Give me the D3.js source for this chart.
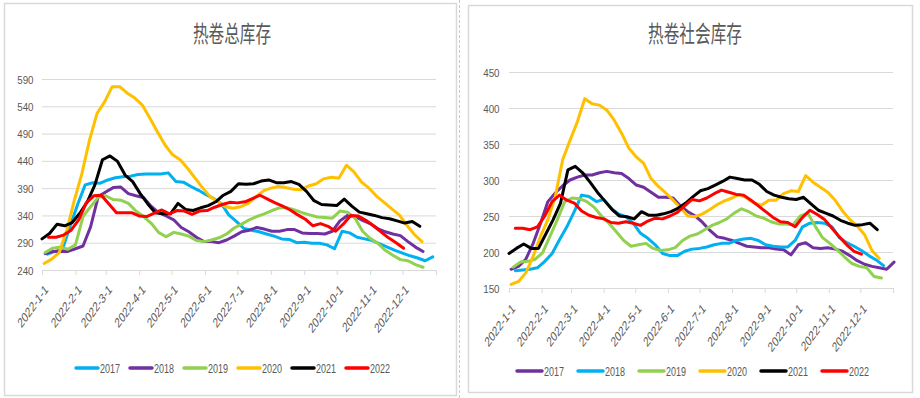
<!DOCTYPE html>
<html>
<head>
<meta charset="utf-8">
<script src="https://cdn.jsdelivr.net/npm/d3@7"></script>
<style>
body { margin: 0; background: #fff; }
svg text { fill: #595959; font-family: "Liberation Sans", Arial, sans-serif; }
</style>
</head>
<body>
<svg id="chart" width="920" height="398"></svg>
<script>
// legend / series names
const years = ["2017", "2018", "2019", "2020", "2021", "2022"];
const tickLabels = ["2022-1-1", "2022-2-1", "2022-3-1", "2022-4-1", "2022-5-1", "2022-6-1",
    "2022-7-1", "2022-8-1", "2022-9-1", "2022-10-1", "2022-11-1", "2022-12-1"];

// 热卷总库存 : weekly values, first point = day offset from 2022-1-1
const totalStart = [5, 3, 3, 2, 0, 6];
const total2017 = [269,274,278,320,360,396,400,399,405,409, 411,412,415,416,416,416,418,402,401,393,
    386,378,371,362,341,329,316,313,310,306, 302,297,296,290,291,289,289,286,279,311,
    308,300,297,294,288,282,276,271,266,262, 257,264];
const total2018 = [270,274,274,274,279,284,319,374,383,391, 392,380,376,373,357,345,339,332,318,310,
    300,292,292,290,295,302,310,313,318,315, 311,311,314,314,308,307,307,306,311,330,
    340,338,331,325,316,310,306,303,292,282, 274];
const total2019 = [272,280,282,278,286,338,356,373,376,369, 368,362,348,338,326,309,301,309,306,302,
    294,292,295,299,306,317,324,332,338,343, 349,354,354,350,345,341,337,336,335,348,
    346,335,311,298,289,276,267,259,257,250, 245];
const total2020 = [252,260,272,313,368,417,478,527,548,576, 576,564,555,542,518,493,469,451,442,426,
    408,390,374,365,356,353,356,362,374,385, 390,393,391,388,387,394,398,407,410,408,
    432,420,401,390,375,364,352,341,322,305, 292];
const total2021 = [297,307,324,321,327,344,365,396,442,449, 439,414,402,380,361,345,343,343,362,351,
    349,354,358,365,377,384,398,397,398,403, 405,400,400,402,397,384,367,360,359,358,
    370,357,346,343,340,336,334,330,326,329, 320];
const total2022 = [300,300,304,313,332,363,376,377,361,345, 345,345,339,338,344,350,343,349,348,342,
    348,349,355,360,364,363,365,371,377,370, 363,357,350,341,333,321,325,320,311,324,
    340,339,331,321,310,299,290,280];

// 热卷社会库存
const socialStart = [2, 6, 4, 2, 0, 6];
const social2017 = [176,180,190,212,240,270,282,292,300,304, 307,307,310,312,310,309,302,293,290,283,
    276,276,275,264,256,250,241,230,221,219, 216,212,208,207,206,206,204,203,196,210,
    213,206,205,206,204,201,195,188,183,180, 178,176,186];
const social2018 = [174,175,176,178,187,198,217,235,256,279, 277,270,273,261,253,249,240,226,219,210,
    198,195,195,201,204,205,207,210,212,212, 216,218,219,216,210,208,207,207,216,235,
    240,241,240,235,220,213,208,202,195,189, 181];
const social2019 = [179,186,187,190,199,222,245,270,275,274, 270,262,250,240,228,216,208,210,212,205,
    202,203,206,216,222,225,231,237,241,246, 254,260,256,250,247,242,239,239,238,250,
    254,236,220,212,203,193,184,180,178,166, 164];
const social2020 = [155,159,171,194,222,245,277,328,355,381, 413,406,404,397,383,365,344,332,323,302,
    291,282,272,261,250,249,253,259,266,271, 275,280,275,268,265,272,272,281,285,284,
    306,297,290,283,272,257,245,236,224,202, 191];
const social2021 = [198,205,211,205,205,225,245,268,314,319, 310,297,283,271,259,250,249,246,256,251,
    251,253,256,261,268,277,285,288,293,298, 304,302,300,300,294,284,279,276,274,273,
    276,267,258,254,250,244,240,237,238,240, 231];
const social2022 = [233,233,231,235,250,270,279,272,268,257, 251,248,246,241,240,242,240,237,243,247,
    246,250,255,264,273,271,275,281,286,283, 280,279,272,264,256,248,242,241,235,248,
    258,252,245,233,221,210,201,197];

const colorsTotal = ["#00B0F0", "#7030A0", "#92D050", "#FFC000", "#000000", "#FF0000"];
const colorsSocial = ["#7030A0", "#00B0F0", "#92D050", "#FFC000", "#000000", "#FF0000"];

const day0 = new Date(2022, 0, 1);
const dayEnd = new Date(2023, 0, 1);
const parseTick = d3.timeParse("%Y-%m-%d");

function toPoints(start, values) {
    return values.map((v, i) => ({ date: d3.timeDay.offset(day0, start + 7 * i), v: v }));
}

const svg = d3.select("#chart");

// panel frames
svg.append("rect").attr("x", 4.5).attr("y", 3.5).attr("width", 452).attr("height", 392)
    .attr("fill", "none").attr("stroke", "#d9d9d9").attr("stroke-width", 1.5);
svg.append("line").attr("x1", 459.5).attr("x2", 459.5).attr("y1", 0).attr("y2", 398)
    .attr("stroke", "#c8c8c8").attr("stroke-dasharray", "3,2");
svg.append("rect").attr("x", 468.5).attr("y", 5.5).attr("width", 444).attr("height", 387)
    .attr("fill", "none").attr("stroke", "#d9d9d9").attr("stroke-width", 1.5);

function drawPanel(o) {
    const g = svg.append("g");
    const x = d3.scaleTime().domain([day0, dayEnd]).range([o.x0, o.x1]);
    const y = d3.scaleLinear().domain([o.yMin, o.yMax]).range([o.yBottom, o.yTop]);

    g.append("text")
        .attr("transform", `translate(${o.titleX},42) scale(0.68,1)`)
        .attr("text-anchor", "middle")
        .style("font-family", "'Noto Sans CJK SC', sans-serif")
        .style("font-size", "23px")
        .text(o.title);

    const yAxis = d3.axisLeft(y).tickValues(d3.range(o.yMin, o.yMax + 1, o.yStep))
        .tickSize(-(o.x1 - o.x0));
    const gy = g.append("g").attr("transform", `translate(${o.x0},0)`).call(yAxis);
    gy.select(".domain").remove();
    gy.selectAll(".tick line").attr("stroke", "#d9d9d9");
    gy.selectAll(".tick text").attr("x", 0).attr("dy", null)
        .attr("transform", `translate(${o.yLabelDx},4) scale(0.85,1)`)
        .style("font-size", "11.5px");

    const xTicks = tickLabels.map(s => parseTick(s)).concat([dayEnd]);
    const xAxis = d3.axisBottom(x).tickValues(xTicks).tickSize(5).tickSizeOuter(0)
        .tickFormat((d, i) => tickLabels[i] || "");
    const gx = g.append("g").attr("transform", `translate(0,${o.yBottom})`).call(xAxis);
    gx.select(".domain").attr("stroke", "#d9d9d9");
    gx.selectAll(".tick line").attr("stroke", "#d9d9d9");
    gx.selectAll(".tick text").attr("x", 0).attr("y", 0).attr("dy", "0.35em")
        .attr("transform", `translate(4,${o.xLabelDy}) scale(0.72,1) rotate(-45)`)
        .style("text-anchor", "end")
        .style("font-size", "13.5px");

    const line = d3.line().x(d => x(d.date)).y(d => y(d.v));
    o.series.forEach((s, i) => {
        g.append("path").datum(toPoints(o.starts[i], s))
            .attr("fill", "none")
            .attr("stroke", o.colors[i])
            .attr("stroke-width", 3)
            .attr("stroke-linejoin", "round")
            .attr("stroke-linecap", "round")
            .attr("d", line);
    });

    const lg = g.selectAll(".lg").data(years).enter().append("g")
        .attr("transform", (d, i) => `translate(${o.legX + i * o.legStep},${o.legY})`);
    lg.append("line").attr("x1", 0).attr("x2", o.legLen).attr("y1", 0).attr("y2", 0)
        .attr("stroke", (d, i) => o.colors[i]).attr("stroke-width", 3.5).attr("stroke-linecap", "round");
    lg.append("text")
        .attr("transform", `translate(${o.legLen + 2},4.5) scale(0.72,1)`)
        .style("font-size", "12.5px")
        .text(d => d);
}

drawPanel({
    title: "热卷总库存", titleX: 232,
    x0: 42, x1: 436, yTop: 79, yBottom: 270, yMin: 240, yMax: 590, yStep: 50, yLabelDx: -8.5,
    xLabelDy: 17,
    series: [total2017, total2018, total2019, total2020, total2021, total2022],
    starts: totalStart, colors: colorsTotal,
    legX: 76, legY: 368, legStep: 54, legLen: 22
});

drawPanel({
    title: "热卷社会库存", titleX: 695,
    x0: 509, x1: 893, yTop: 72, yBottom: 288, yMin: 150, yMax: 450, yStep: 50, yLabelDx: -9.5,
    xLabelDy: 18,
    series: [social2017, social2018, social2019, social2020, social2021, social2022],
    starts: socialStart, colors: colorsSocial,
    legX: 517, legY: 371, legStep: 61, legLen: 25
});
</script>
</body>
</html>
